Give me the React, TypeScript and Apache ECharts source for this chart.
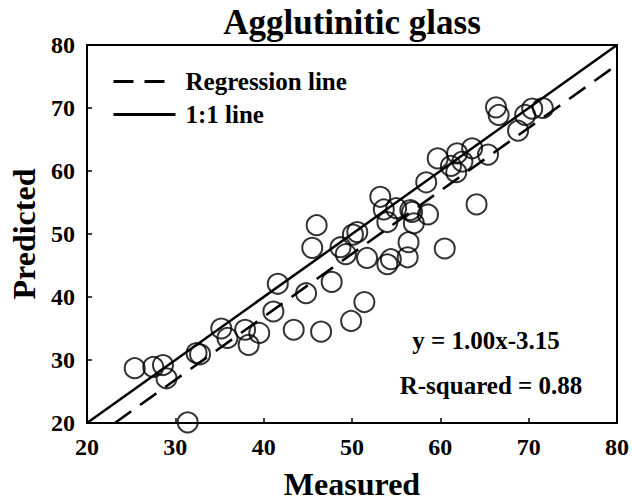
import React, { useEffect, useRef } from "react";
import * as echarts from "echarts";

const measured = [
  25.4, 27.5, 28.6, 29.0, 31.4, 32.4, 32.8, 35.2, 35.9, 37.9, 38.3, 39.5, 41.1, 41.6,
  43.4, 44.8, 46.5, 45.5, 46.0, 47.7, 48.7, 49.3, 49.9, 51.4, 50.1, 50.6, 51.7, 53.2,
  53.6, 54.0, 55.0, 54.0, 54.4, 56.4, 56.3, 56.8, 57.0, 56.6, 58.6, 58.4, 60.5, 59.7,
  61.2, 61.8, 61.9, 62.5, 63.6, 64.1, 65.4, 66.3, 66.6, 68.8, 69.6, 70.4, 71.6,
];
const predicted = [
  28.7, 28.9, 29.2, 27.1, 20.1, 31.1, 30.9, 35.0, 33.5, 34.8, 32.4, 34.3, 37.7, 42.1,
  34.8, 40.6, 34.5, 47.8, 51.4, 42.4, 47.9, 46.8, 36.2, 39.2, 49.9, 50.3, 46.2, 55.9,
  53.9, 51.9, 54.1, 45.2, 46.0, 48.7, 46.3, 53.5, 51.7, 53.8, 53.1, 58.2, 47.7, 62.0,
  60.8, 59.8, 62.8, 61.5, 63.6, 54.7, 62.6, 70.1, 68.9, 66.4, 68.9, 69.9, 70.0,
];
const regressionLine = [
  [23.15, 20],
  [79.5, 76.35],
];
const oneToOneLine = [
  [20, 20],
  [80, 80],
];
const axisTicks = [20, 30, 40, 50, 60, 70, 80];
const titleText = "Agglutinitic glass";
const xName = "Measured";
const yName = "Predicted";
const equationText = "y = 1.00x-3.15";
const r2Text = "R-squared = 0.88";

const FONT = '"Liberation Serif", "Times New Roman", serif';

export default function App() {
  const ref = useRef<HTMLDivElement>(null);
  useEffect(() => {
    if (!ref.current) return;
    const chart = echarts.init(ref.current, undefined, { renderer: "svg" });
    const points = measured.map((m, i) => [m, predicted[i]]);
    chart.setOption({
      animation: false,
      backgroundColor: "#fff",
      textStyle: { fontFamily: FONT, fontWeight: "bold", color: "#000" },
      title: {
        text: titleText,
        left: 347,
        textAlign: "center",
        top: 0,
        textStyle: { fontFamily: FONT, fontWeight: "bold", fontSize: 35, color: "#000" },
      },
      grid: {
        left: 87,
        right: 15,
        top: 45,
        bottom: 78,
        containLabel: false,
        outerBoundsMode: "none",
        show: true,
        borderColor: "#000",
        borderWidth: 2,
        backgroundColor: "transparent",
      },
      legend: {
        data: ["Regression line", "1:1 line"],
        orient: "vertical",
        left: 107,
        top: 64,
        itemWidth: 62,
        itemHeight: 20,
        itemGap: 8,
        lineStyle: { width: 3 },
        itemStyle: { color: "rgba(0,0,0,0)", borderColor: "rgba(0,0,0,0)", borderWidth: 0, opacity: 0 },
        textStyle: {
          fontFamily: FONT,
          fontWeight: "bold",
          fontSize: 25,
          color: "#000",
          padding: [0, 0, 0, 5],
        },
      },
      xAxis: {
        type: "value",
        min: axisTicks[0],
        max: axisTicks[axisTicks.length - 1],
        interval: 10,
        name: xName,
        nameLocation: "middle",
        nameGap: 45,
        nameTextStyle: { fontFamily: FONT, fontWeight: "bold", fontSize: 32, color: "#000" },
        axisLine: { show: true, lineStyle: { color: "#000", width: 2 } },
        axisTick: { show: true, inside: true, length: 5, lineStyle: { color: "#000", width: 1.5 } },
        axisLabel: { fontFamily: FONT, fontWeight: "bold", fontSize: 24, color: "#000", margin: 12 },
        splitLine: { show: false },
      },
      yAxis: {
        type: "value",
        min: axisTicks[0],
        max: axisTicks[axisTicks.length - 1],
        interval: 10,
        name: yName,
        nameLocation: "middle",
        nameGap: 46,
        nameTextStyle: { fontFamily: FONT, fontWeight: "bold", fontSize: 32, color: "#000" },
        axisLine: { show: true, lineStyle: { color: "#000", width: 2 } },
        axisTick: { show: true, inside: true, length: 5, lineStyle: { color: "#000", width: 1.5 } },
        axisLabel: { fontFamily: FONT, fontWeight: "bold", fontSize: 24, color: "#000", margin: 12 },
        splitLine: { show: false },
      },
      graphic: [
        {
          type: "text",
          x: 486,
          y: 340,
          style: {
            text: equationText,
            align: "center",
            verticalAlign: "middle",
            fontFamily: FONT,
            fontWeight: "bold",
            fontSize: 25,
            fill: "#000",
          },
        },
        {
          type: "text",
          x: 491,
          y: 385,
          style: {
            text: r2Text,
            align: "center",
            verticalAlign: "middle",
            fontFamily: FONT,
            fontWeight: "bold",
            fontSize: 25,
            fill: "#000",
          },
        },
      ],
      series: [
        {
          name: "Data",
          type: "scatter",
          data: points,
          symbol: "circle",
          symbolSize: 20,
          itemStyle: { color: "rgba(0,0,0,0)", borderColor: "#000", borderWidth: 2 },
          z: 2,
        },
        {
          name: "Regression line",
          type: "line",
          data: regressionLine,
          symbol: "none",
          lineStyle: { color: "#000", width: 2.5, type: [20, 11] },
          itemStyle: { color: "#000" },
          z: 3,
        },
        {
          name: "1:1 line",
          type: "line",
          data: oneToOneLine,
          symbol: "none",
          lineStyle: { color: "#000", width: 2.5, type: "solid" },
          itemStyle: { color: "#000" },
          z: 3,
        },
      ],
    });
    return () => chart.dispose();
  }, []);
  return (
    <div
      ref={ref}
      style={{ position: "absolute", left: 0, top: 0, width: 632, height: 501, background: "#fff" }}
    />
  );
}
